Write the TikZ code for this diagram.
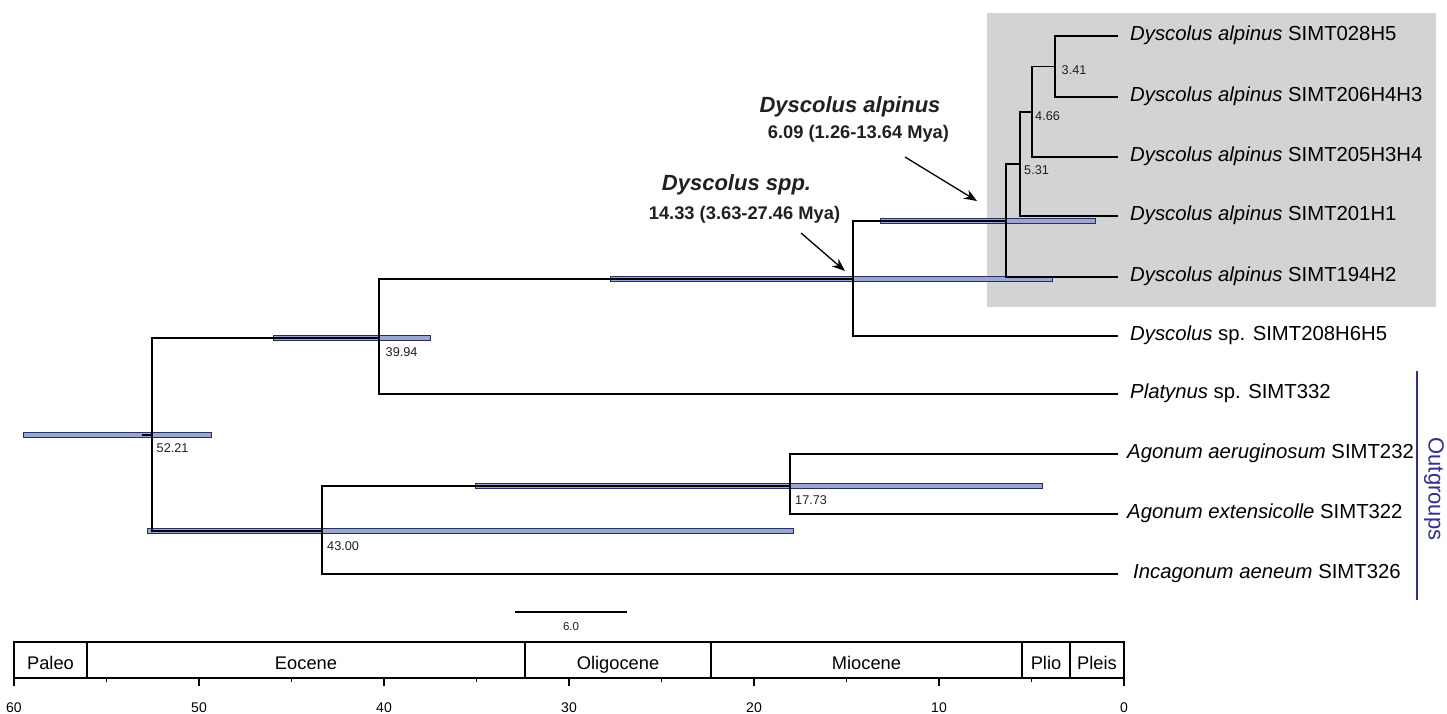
\documentclass[tikz,border=0pt]{standalone}
\usepackage{fontspec}
\setmainfont{Liberation Sans}
\usetikzlibrary{arrows.meta}
\definecolor{hpdfill}{HTML}{9DA5D3}
\definecolor{hpdline}{HTML}{26305E}
\definecolor{clade}{HTML}{D1D3D4}
\definecolor{outblue}{HTML}{2E3192}
\definecolor{txt}{HTML}{231F20}
\begin{document}
\begin{tikzpicture}[x=1pt,y=-1pt,
  branch/.style={line width=1.3pt, draw=black},
  hpd/.style={fill=hpdfill, draw=hpdline, line width=0.9pt},
  tiplabel/.style={anchor=base west, inner sep=0pt, font=\fontsize{20.3}{22}\selectfont, text=black},
  agelabel/.style={anchor=base west, inner sep=0pt, font=\fontsize{12.7}{14}\selectfont, text=txt},
  annot/.style={anchor=base, inner sep=0pt, font=\bfseries\itshape\fontsize{22}{24}\selectfont, text=txt},
  annotsub/.style={anchor=base, inner sep=0pt, font=\bfseries\fontsize{18.3}{20}\selectfont, text=txt},
  pointer/.style={line width=1.3pt, -{Stealth[length=13pt,width=10pt]}},
  epoch/.style={anchor=base, inner sep=0pt, font=\fontsize{18.3}{20}\selectfont},
  axislabel/.style={anchor=base, inner sep=0pt, font=\fontsize{14}{16}\selectfont},
  frame/.style={line width=1.4pt}
]
\useasboundingbox (0,0) rectangle (1447,713);

% clade background
\fill[clade] (987,13) rectangle (1436,307);

% internal nodes
\coordinate (n52) at (152,435);
\coordinate (n43) at (322,531);
\coordinate (n40) at (379,338);
\coordinate (n17) at (790,486);
\coordinate (n14) at (853,279);
\coordinate (n6) at (1006,221);
\coordinate (n5) at (1020,164);
\coordinate (n4) at (1032,112);
\coordinate (n3) at (1055,66.5);
\coordinate (root) at (142,435);

% tips
\coordinate (t1) at (1118,36);
\coordinate (t2) at (1118,97);
\coordinate (t3) at (1118,157);
\coordinate (t4) at (1118,216);
\coordinate (t5) at (1118,277);
\coordinate (t6) at (1118,336);
\coordinate (t7) at (1118,394);
\coordinate (t8) at (1118,454);
\coordinate (t9) at (1118,514);
\coordinate (t10) at (1118,574);

% HPD bars
\draw[hpd] (23,432.5) rectangle (211,437.5);
\draw[hpd] (273,335.5) rectangle (430,340.5);
\draw[hpd] (147,528.5) rectangle (793,533.5);
\draw[hpd] (475,483.5) rectangle (1042,488.5);
\draw[hpd] (610,276.5) rectangle (1052,281.5);
\draw[hpd] (880,218.5) rectangle (1095,223.5);

% branches
\draw[branch] (root) -- (n52);
\draw[branch] (n52) |- (n40);
\draw[branch] (n52) |- (n43);
\draw[branch] (n40) |- (n14);
\draw[branch] (n40) |- (t7);
\draw[branch] (n14) |- (n6);
\draw[branch] (n14) |- (t6);
\draw[branch] (n6) |- (n5);
\draw[branch] (n6) |- (t5);
\draw[branch] (n5) |- (n4);
\draw[branch] (n5) |- (t4);
\draw[branch] (n4) |- (n3);
\draw[branch] (n4) |- (t3);
\draw[branch] (n3) |- (t1);
\draw[branch] (n3) |- (t2);
\draw[branch] (n43) |- (n17);
\draw[branch] (n43) |- (t10);
\draw[branch] (n17) |- (t8);
\draw[branch] (n17) |- (t9);

% node ages
\node[agelabel] (a52) at (156.5,452.5) {52.21};
\node[agelabel] (a40) at (385.5,356.5) {39.94};
\node[agelabel] (a43) at (327,550) {43.00};
\node[agelabel] (a17) at (795,504.5) {17.73};
\node[agelabel] (a3) at (1061.5,74.3) {3.41};
\node[agelabel] (a4) at (1035,120) {4.66};
\node[agelabel] (a5) at (1024,174.3) {5.31};

% tip labels
\node[tiplabel] (L1) at (1130,40.8) {\textit{Dyscolus alpinus} SIMT028H5};
\node[tiplabel] (L2) at (1130,101.8) {\textit{Dyscolus alpinus} SIMT206H4H3};
\node[tiplabel] (L3) at (1130,161.8) {\textit{Dyscolus alpinus} SIMT205H3H4};
\node[tiplabel] (L4) at (1130,220.8) {\textit{Dyscolus alpinus} SIMT201H1};
\node[tiplabel] (L5) at (1130,281.8) {\textit{Dyscolus alpinus} SIMT194H2};
\node[tiplabel] (L6) at (1130,340.8) {\textit{Dyscolus} sp. SIMT208H6H5};
\node[tiplabel] (L7) at (1130,398.8) {\textit{Platynus} sp. SIMT332};
\node[tiplabel] (L8) at (1127,458.8) {\textit{Agonum aeruginosum} SIMT232};
\node[tiplabel] (L9) at (1127,518.8) {\textit{Agonum extensicolle} SIMT322};
\node[tiplabel] (L10) at (1133,578.8) {\textit{Incagonum aeneum} SIMT326};

% annotations
\node[annot] (da) at (850,112.3) {Dyscolus alpinus};
\node[annotsub] (dasub) at (858.5,138.3) {6.09 (1.26-13.64 Mya)};
\node[annot] (ds) at (736.5,190.7) {Dyscolus spp.};
\node[annotsub] (dssub) at (744.5,219.3) {14.33 (3.63-27.46 Mya)};
\coordinate (p1s) at (905,157);
\coordinate (p1e) at (977,201);
\coordinate (p2s) at (801,233);
\coordinate (p2e) at (845,271);
\draw[pointer] (p1s) -- (p1e);
\draw[pointer] (p2s) -- (p2e);

% outgroups
\coordinate (og1) at (1417,371);
\coordinate (og2) at (1417,600);
\draw[outblue, line width=2.6pt] (og1) -- (og2);
\node[rotate=-90, inner sep=0pt, text=outblue, font=\fontsize{22}{24}\selectfont] (og) at (1434,489) {Outgroups};

% scale bar
\coordinate (sb1) at (515,612);
\coordinate (sb2) at (627,612);
\draw[line width=1.3pt] (sb1) -- (sb2);
\node[anchor=base, inner sep=0pt, font=\fontsize{11.5}{12}\selectfont, text=txt] (sbl) at (571,630.3) {6.0};

% time scale
\draw[frame] (14,642) rectangle (1124,678);
\foreach \bx in {87,525,711,1022,1070}
  \draw[frame] (\bx,642) -- (\bx,678);
\node[epoch] (e1) at (50.5,669.3) {Paleo};
\node[epoch] (e2) at (306,669.3) {Eocene};
\node[epoch] (e3) at (618,669.3) {Oligocene};
\node[epoch] (e4) at (866.5,669.3) {Miocene};
\node[epoch] (e5) at (1046,669.3) {Plio};
\node[epoch] (e6) at (1097,669.3) {Pleis};
\foreach \t in {0,10,...,60} {
  \draw[frame] ({1124-18.5*\t},678) -- ({1124-18.5*\t},686);
  \node[axislabel] at ({1124-18.5*\t},712) {\t};
}
\foreach \t in {5,15,...,55}
  \draw[frame] ({1124-18.5*\t},678) -- ({1124-18.5*\t},682);
\end{tikzpicture}
\end{document}
